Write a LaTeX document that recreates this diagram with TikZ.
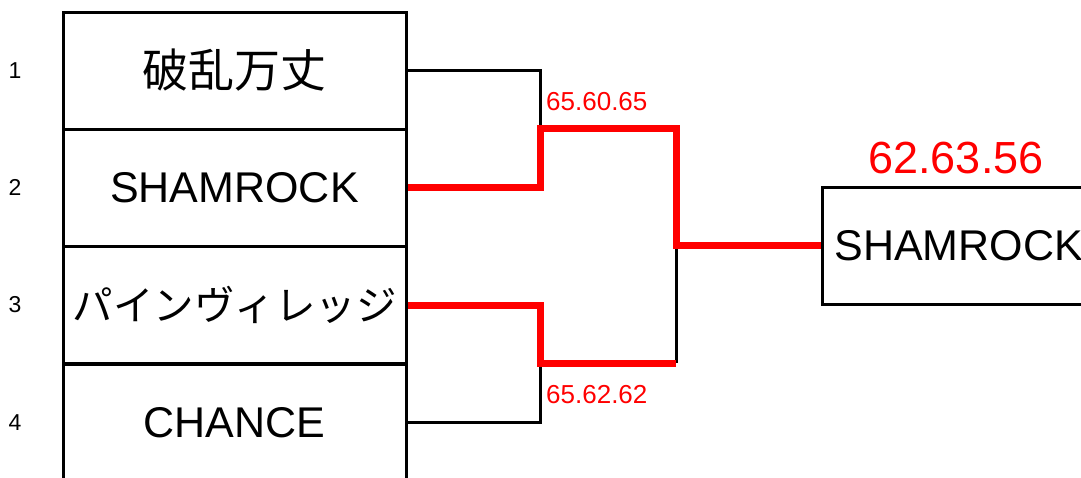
\documentclass[tikz,border=0pt]{standalone}
\usepackage{fontspec}
\setmainfont{Liberation Sans}
\newfontfamily\jp{Noto Sans CJK JP}
\begin{document}
\begin{tikzpicture}[x=1pt,y=-1pt,
  team/.style={draw=black, line width=3pt, minimum width=343pt, minimum height=117pt, inner sep=0pt, font=\fontsize{43}{50}\selectfont},
  seed/.style={font=\fontsize{23}{26}\selectfont, inner sep=0pt},
  lose/.style={line width=3pt, black},
  win/.style={line width=7pt, red, line join=miter},
  score/.style={red, inner sep=0pt, font=\fontsize{26}{30}\selectfont}]
\useasboundingbox (0,0) rectangle (1081,477);
\clip (0,0) rectangle (1081,477);
% team boxes
\node[team] (r1) at (234.5,70.5) {\fontsize{46}{50}\selectfont\jp 破乱万丈};
\node[team] (r2) at (234.5,187.5) {SHAMROCK};
\node[team] (r3) at (234.5,305) {\fontsize{40.5}{50}\selectfont\jp パインヴィレッジ};
\node[team] (r4) at (234.5,422.5) {CHANCE};
% seeds
\node[seed] (n1) at (15,70.5) {1};
\node[seed] (n2) at (15,187.5) {2};
\node[seed] (n3) at (15,305) {3};
\node[seed] (n4) at (15,422.5) {4};
% winner box
\node[team, minimum width=0pt, text width=290pt, inner xsep=12pt, align=left, anchor=west] (w) at (821,245.5) {SHAMROCK};
% bracket corners
\coordinate (a1) at (540,128);
\coordinate (b1) at (676,128);
\coordinate (a2) at (540,363);
\coordinate (b2) at (676,363);
% losing lines
\draw[lose] (r1.east) -| (a1);
\draw[lose] (r4.east) -| (a2);
\draw[lose] (b2) -- (b2 |- w.west);
% winning lines
\draw[win] (r2.east) -| (a1) -- (b1) |- (w.west);
\draw[win] (r3.east) -| (a2) -- (b2);
% scores
\node[score, anchor=west] (s1) at (546,102) {65.60.65};
\node[score, anchor=west] (s2) at (546,395) {65.62.62};
\node[score, font=\fontsize{45}{50}\selectfont] (s3) at (956,158.5) {62.63.56};
\end{tikzpicture}
\end{document}
